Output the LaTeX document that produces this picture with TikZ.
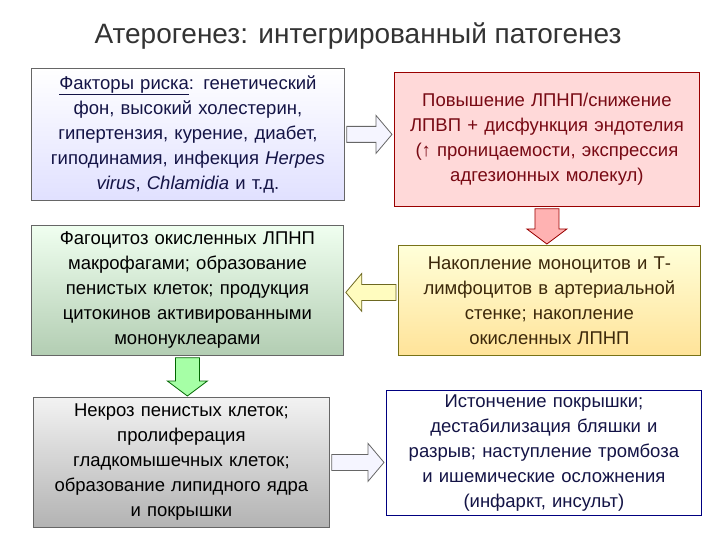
\documentclass[tikz,border=0pt]{standalone}
\usepackage{fontspec}
\setmainfont{Liberation Sans}
\usetikzlibrary{calc}
\definecolor{navy}{RGB}{20,20,70}
\definecolor{dred}{RGB}{120,10,20}
\definecolor{dolive}{RGB}{60,40,10}
\tikzset{
 box/.style={draw=black!60, line width=0.8pt, align=center, font=\fontsize{18.5}{25}\selectfont, inner sep=1pt, anchor=north west},
 harr/.style={line width=0.8pt},
}
\newcommand{\hblock}[5]{%
 \path let \p1=(#1), \p2=(#2) in
 [fill=#4, draw=#5, harr] (\x1,\y1+8) -- (\x2-#3*16,\y1+8) -- (\x2-#3*16,\y1+19) -- (\x2,\y1) -- (\x2-#3*16,\y1-19) -- (\x2-#3*16,\y1-8) -- (\x1,\y1-8) -- cycle;}
\newcommand{\vblock}[4]{%
 \path let \p1=(#1), \p2=(#2) in
 [fill=#3, draw=#4, harr] (\x1-12,\y1) -- (\x1-12,\y2+15) -- (\x1-20,\y2+15) -- (\x1,\y2) -- (\x1+20,\y2+15) -- (\x1+12,\y2+15) -- (\x1+12,\y1) -- cycle;}
\begin{document}
\begin{tikzpicture}[x=1pt,y=-1pt]
\useasboundingbox (0,0) rectangle (720,540);
\node[font=\fontsize{28}{32}\selectfont, text=black!80] (title) at (358,36) {Атерогенез: интегрированный патогенез};
\node[box, text=navy, top color=white, bottom color=blue!12, text width=311pt, minimum height=132pt] (b1) at (31,68)
 {\underline{Факторы риска}: генетический\\ фон, высокий холестерин,\\ гипертензия, курение, диабет,\\ гиподинамия, инфекция \textit{Herpes}\\ \textit{virus}, \textit{Chlamidia} и т.д.};
\node[box, text=dred, draw=red!60!black, fill=red!15, text width=303pt, minimum height=134pt] (b2) at (394,72)
 {Повышение ЛПНП/снижение\\ ЛПВП + дисфункция эндотелия\\ (↑ проницаемости, экспрессия\\ адгезионных молекул)};
\node[box, text=black, top color=green!6, bottom color=green!35!black!30, text width=310pt, minimum height=130pt] (b3) at (31,225)
 {Фагоцитоз окисленных ЛПНП\\ макрофагами; образование\\ пенистых клеток; продукция\\ цитокинов активированными\\ мононуклеарами};
\node[box, text=dolive, draw=olive!80!black, top color=yellow!15, bottom color=yellow!45!orange!40, text width=300pt, minimum height=110pt] (b4) at (398,245)
 {Накопление моноцитов и Т-\\ лимфоцитов в артериальной\\ стенке; накопление\\ окисленных ЛПНП};
\node[box, text=black, top color=black!5, bottom color=black!30, text width=294pt, minimum height=130pt] (b5) at (33,397)
 {Некроз пенистых клеток;\\ пролиферация\\ гладкомышечных клеток;\\ образование липидного ядра\\ и покрышки};
\node[box, text=navy, draw=blue!50!black, fill=white, text width=313pt, minimum height=125pt] (b6) at (386,390)
 {Истончение покрышки;\\ дестабилизация бляшки и\\ разрыв; наступление тромбоза\\ и ишемические осложнения\\ (инфаркт, инсульт)};
\hblock{$(b1.east)+(2,0)$}{$(b2.west)+(-2,0)$}{1}{blue!4}{black!60}
\vblock{$(b2.south)+(0,2)$}{$(b4.north)+(0,-1)$}{red!30}{red!60!black}
\hblock{$(b4.west)+(-2,-8)$}{$(b3.east)+(2,-8)$}{-1}{yellow!25}{olive!70!black}
\vblock{$(b3.south)+(0,2)$}{$(b5.north)+(0,-1)$}{green!35}{green!40!black}
\hblock{$(b5.east)+(2,0)$}{$(b6.west)+(-2,8)$}{1}{blue!4}{black!60}
\end{tikzpicture}
\end{document}
